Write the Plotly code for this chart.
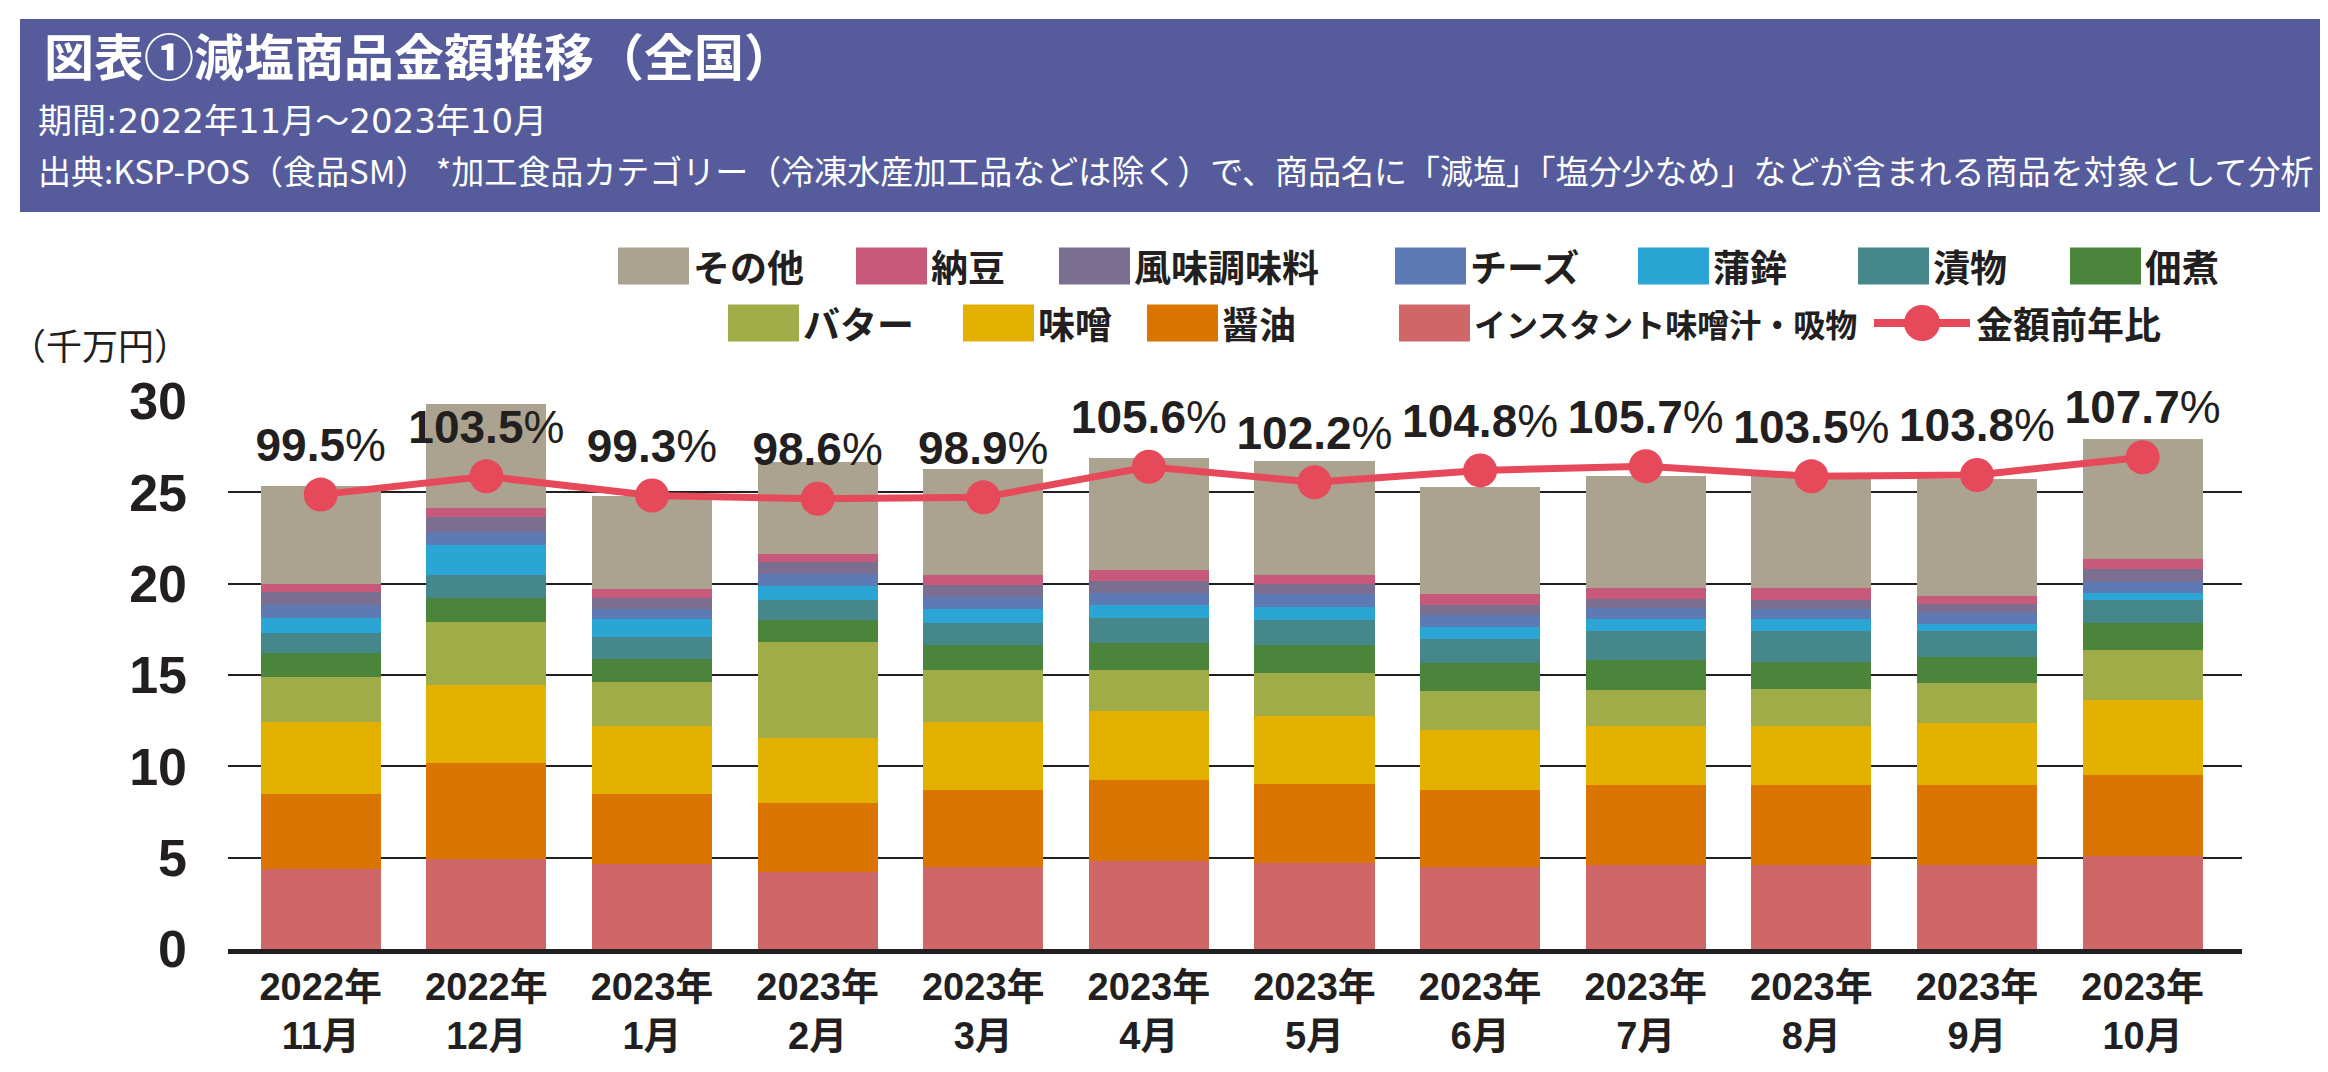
import plotly.graph_objects as go

# ---------------- data ----------------
months = ["2022年<br>11月", "2022年<br>12月", "2023年<br>1月", "2023年<br>2月", "2023年<br>3月",
          "2023年<br>4月", "2023年<br>5月", "2023年<br>6月", "2023年<br>7月", "2023年<br>8月",
          "2023年<br>9月", "2023年<br>10月"]

# 千万円 (stack order: bottom -> top)
instant_miso = [4.37, 4.90, 4.65, 4.22, 4.51, 4.84, 4.71, 4.49, 4.61, 4.61, 4.61, 5.08]
shoyu        = [4.14, 5.26, 3.82, 3.76, 4.22, 4.40, 4.35, 4.24, 4.37, 4.39, 4.35, 4.47]
miso         = [3.92, 4.29, 3.73, 3.59, 3.68, 3.80, 3.69, 3.27, 3.22, 3.20, 3.39, 4.08]
butter       = [2.45, 3.45, 2.41, 5.23, 2.86, 2.23, 2.35, 2.12, 2.00, 2.02, 2.20, 2.74]
tsukudani    = [1.32, 1.32, 1.25, 1.20, 1.38, 1.48, 1.53, 1.55, 1.62, 1.47, 1.43, 1.47]
tsukemono    = [1.09, 1.27, 1.22, 1.10, 1.19, 1.39, 1.37, 1.29, 1.59, 1.70, 1.43, 1.28]
kamaboko     = [0.85, 1.65, 0.96, 0.78, 0.77, 0.70, 0.73, 0.67, 0.67, 0.69, 0.37, 0.35]
cheese       = [0.68, 0.70, 0.55, 0.65, 0.66, 0.63, 0.68, 0.68, 0.57, 0.53, 0.59, 0.63]
fumi         = [0.73, 0.79, 0.65, 0.65, 0.67, 0.67, 0.55, 0.51, 0.51, 0.49, 0.51, 0.70]
natto        = [0.45, 0.53, 0.49, 0.45, 0.53, 0.62, 0.53, 0.61, 0.60, 0.65, 0.43, 0.53]
sonota       = [5.37, 5.66, 5.05, 5.04, 5.82, 6.14, 6.20, 5.88, 6.16, 6.13, 6.40, 6.61]

yoy = [99.5, 103.5, 99.3, 98.6, 98.9, 105.6, 102.2, 104.8, 105.7, 103.5, 103.8, 107.7]

y_ticks = [0, 5, 10, 15, 20, 25, 30]

series = [
    ("インスタント味噌汁・吸物", instant_miso, "#cf6769"),
    ("醤油", shoyu, "#d97500"),
    ("味噌", miso, "#e3b000"),
    ("バター", butter, "#a0ac47"),
    ("佃煮", tsukudani, "#4b853b"),
    ("漬物", tsukemono, "#45878a"),
    ("蒲鉾", kamaboko, "#2aa5d4"),
    ("チーズ", cheese, "#5e7ab5"),
    ("風味調味料", fumi, "#7b6f91"),
    ("納豆", natto, "#c75a7b"),
    ("その他", sonota, "#aba38f"),
]
LINE_NAME = "金額前年比"
LINE_COLOR = "#e6495a"

# ---------------- layout geometry ----------------
W, H = 2328, 1072
ML, MR, MT, MB = 220, 94, 393, 131
PW, PH = W - ML - MR, H - MT - MB


def px(xp):
    return (xp - ML) / PW


def py(yp):
    return (H - MB - yp) / PH


TXT = "#231f20"
CJK = "Noto Sans CJK JP"
NUM = "Liberation Sans, Noto Sans CJK JP"

fig = go.Figure()
for name, vals, color in series:
    fig.add_trace(go.Bar(x=months, y=vals, name=name, marker=dict(color=color, line=dict(width=0)),
                         showlegend=False))

fig.add_trace(go.Scatter(
    x=months, y=yoy, name=LINE_NAME, yaxis="y2", mode="lines+markers+text",
    line=dict(color=LINE_COLOR, width=7), marker=dict(color=LINE_COLOR, size=34),
    text=[f"<b>{v:.1f}</b>%" for v in yoy], textposition="top center",
    textfont=dict(family="Liberation Sans", size=46, color=TXT),
    cliponaxis=False, showlegend=False))

shapes = []
annotations = []

# header band
shapes.append(dict(type="rect", xref="paper", yref="paper", x0=px(12), x1=px(2317), y0=py(204), y1=py(11),
                   fillcolor="#565c9b", line=dict(width=0), layer="below"))
annotations.append(dict(text="<b>図表①減塩商品金額推移（全国）</b>", xref="paper", yref="paper",
                        x=px(34), y=py(46), xanchor="left", yanchor="middle", showarrow=False,
                        font=dict(family=CJK, size=50, color="white")))
annotations.append(dict(text="期間:2022年11月～2023年10月", xref="paper", yref="paper",
                        x=px(28), y=py(113), xanchor="left", yanchor="middle", showarrow=False,
                        font=dict(family="DejaVu Sans, Noto Sans CJK JP", size=34, color="white")))
annotations.append(dict(text="出典:KSP-POS（食品SM） *加工食品カテゴリー（冷凍水産加工品などは除く）で、商品名に「減塩」「塩分少なめ」などが含まれる商品を対象として分析",
                        xref="paper", yref="paper",
                        x=px(28), y=py(162), xanchor="left", yanchor="middle", showarrow=False,
                        font=dict(family=CJK, size=33, color="white")))

# unit label
annotations.append(dict(text="（千万円）", xref="paper", yref="paper", x=px(0), y=py(336),
                        xanchor="left", yanchor="middle", showarrow=False,
                        font=dict(family=CJK, size=36, color=TXT)))

# custom legend
legend_rows = [
    (258, [("その他", 610), ("納豆", 848), ("風味調味料", 1051), ("チーズ", 1387),
           ("蒲鉾", 1630), ("漬物", 1850), ("佃煮", 2062)]),
    (315, [("バター", 720), ("味噌", 955), ("醤油", 1139), ("インスタント味噌汁・吸物", 1391)]),
]
color_of = {n: c for n, _, c in series}
SW, SH = 71, 37
for yc, items in legend_rows:
    for name, x0 in items:
        shapes.append(dict(type="rect", xref="paper", yref="paper", x0=px(x0), x1=px(x0 + SW),
                           y0=py(yc + SH / 2), y1=py(yc - SH / 2), fillcolor=color_of[name], line=dict(width=0)))
        fs = 32 if len(name) > 8 else 37
        annotations.append(dict(text=f"<b>{name}</b>", xref="paper", yref="paper", x=px(x0 + SW + 2), y=py(yc),
                                xanchor="left", yanchor="middle", showarrow=False,
                                font=dict(family=CJK, size=fs, color=TXT)))
# line legend item
lx0, lx1, lyc = 1866, 1962, 315
shapes.append(dict(type="line", xref="paper", yref="paper", x0=px(lx0), x1=px(lx1), y0=py(lyc), y1=py(lyc),
                   line=dict(color=LINE_COLOR, width=8)))
mx = (lx0 + lx1) / 2
shapes.append(dict(type="circle", xref="paper", yref="paper", x0=px(mx - 18), x1=px(mx + 18),
                   y0=py(lyc + 18), y1=py(lyc - 18), fillcolor=LINE_COLOR, line=dict(width=0)))
annotations.append(dict(text=f"<b>{LINE_NAME}</b>", xref="paper", yref="paper", x=px(lx1 + 4), y=py(lyc),
                        xanchor="left", yanchor="middle", showarrow=False,
                        font=dict(family=CJK, size=37, color=TXT)))

fig.update_layout(
    width=W, height=H, margin=dict(l=ML, r=MR, t=MT, b=MB),
    barmode="stack", bargap=0.275,
    paper_bgcolor="white", plot_bgcolor="white",
    shapes=shapes, annotations=annotations,
    xaxis=dict(type="category", range=[-0.56, 11.6], showline=True, linewidth=5, linecolor=TXT,
               ticks="", showgrid=False,
               tickfont=dict(family=NUM, size=38, color=TXT, weight="bold")),
    yaxis=dict(range=[0, 30], tickvals=y_ticks, showgrid=True, gridcolor=TXT, gridwidth=2,
               zeroline=False, showline=False, ticks="", ticklabelstandoff=40,
               tickfont=dict(family="Liberation Sans", size=52, color=TXT, weight="bold")),
    yaxis2=dict(overlaying="y", range=[0, 120], visible=False),
    showlegend=False,
)

fig.write_html("out.html")
